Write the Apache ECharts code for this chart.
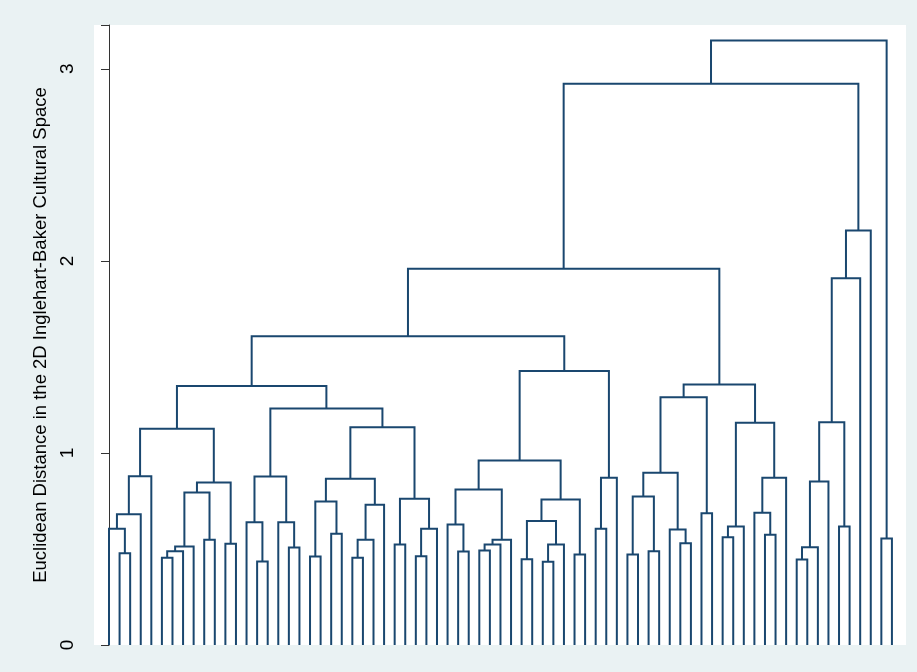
<!DOCTYPE html>
<html>
<head>
<meta charset="utf-8">
<title>Dendrogram</title>
<script src="https://cdn.jsdelivr.net/npm/echarts@6/dist/echarts.min.js"></script>
<style>
  html, body { margin: 0; padding: 0; background: #eaf2f3; }
  #chart { width: 917px; height: 672px; }
</style>
</head>
<body>
<div id="chart"></div>
<script>
// 75 leaves laid out left to right at positions 0..74.
const leafCount = 75;

// Agglomeration steps: node id of step k is leafCount + k.
const mergeLeft = [
  1, 0, 76, 77, 5, 79, 80, 9, 81, 11,
  83, 78, 14, 13, 17, 16, 88, 19, 21, 92,
  23, 95, 96, 94, 27, 29, 100, 99, 98, 91,
  86, 33, 32, 35, 108, 109, 107, 39, 41, 113,
  112, 44, 115, 111, 46, 119, 118, 105, 49, 51,
  123, 54, 53, 125, 56, 128, 58, 131, 62, 61,
  134, 132, 130, 122, 65, 139, 140, 69, 141, 143,
  144, 138, 73, 146
];
const mergeRight = [
  2, 75, 3, 4, 6, 7, 8, 10, 82, 12,
  84, 85, 15, 87, 18, 89, 90, 20, 22, 93,
  24, 25, 26, 97, 28, 30, 31, 101, 102, 103,
  104, 34, 106, 36, 37, 38, 110, 40, 42, 43,
  114, 45, 116, 117, 47, 48, 120, 121, 50, 52,
  124, 55, 126, 127, 57, 129, 59, 60, 63, 133,
  64, 135, 136, 137, 66, 67, 68, 70, 142, 71,
  72, 145, 74, 147
];
const mergeHeight = [
  0.478, 0.605, 0.681, 0.879, 0.454, 0.488, 0.513, 0.548, 0.794, 0.527,
  0.846, 1.126, 0.435, 0.639, 0.508, 0.639, 0.877, 0.461, 0.579, 0.747,
  0.454, 0.548, 0.730, 0.865, 0.523, 0.462, 0.605, 0.761, 1.134, 1.231,
  1.349, 0.487, 0.627, 0.492, 0.523, 0.548, 0.810, 0.447, 0.433, 0.523,
  0.645, 0.471, 0.758, 0.961, 0.605, 0.871, 1.426, 1.608, 0.471, 0.488,
  0.773, 0.530, 0.601, 0.897, 0.686, 1.290, 0.561, 0.617, 0.574, 0.688,
  0.871, 1.157, 1.356, 1.959, 0.445, 0.509, 0.851, 0.617, 1.160, 1.910,
  2.158, 2.922, 0.554, 3.147
];

const yTicks = [0, 1, 2, 3];
const yTitle = 'Euclidean Distance in the 2D Inglehart-Baker Cultural Space';

// Position and height of every node; leaves sit at height 0.
const nodeX = [];
const nodeH = [];
for (let i = 0; i < leafCount; i++) { nodeX.push(i); nodeH.push(0); }

const links = [];
for (let k = 0; k < mergeHeight.length; k++) {
  const a = mergeLeft[k], b = mergeRight[k], h = mergeHeight[k];
  links.push({
    coords: [
      [nodeX[a], nodeH[a]],
      [nodeX[a], h],
      [nodeX[b], h],
      [nodeX[b], nodeH[b]]
    ]
  });
  nodeX.push((nodeX[a] + nodeX[b]) / 2);
  nodeH.push(h);
}

const chart = echarts.init(document.getElementById('chart'), null, { renderer: 'canvas' });
chart.setOption({
  animation: false,
  backgroundColor: '#eaf2f3',
  grid: {
    left: 94, right: 11, top: 25, bottom: 27,
    show: true, backgroundColor: '#ffffff', borderWidth: 0
  },
  xAxis: {
    type: 'value', min: -1.418, max: 75.33,
    show: false
  },
  yAxis: {
    type: 'value', min: 0, max: 3.228, interval: 1,
    name: yTitle,
    nameLocation: 'middle',
    nameRotate: 90,
    nameGap: 39,
    nameTextStyle: { fontFamily: 'Liberation Sans', fontSize: 18.5, color: '#000' },
    axisLine: { show: true, lineStyle: { color: '#333', width: 1 } },
    axisTick: { show: true, length: 8, lineStyle: { color: '#333', width: 1 } },
    axisLabel: {
      rotate: 90, margin: 17,
      fontFamily: 'Liberation Sans', fontSize: 19, color: '#000',
      formatter: v => (yTicks.indexOf(v) >= 0 ? String(v) : '')
    },
    splitLine: { show: false }
  },
  series: [{
    type: 'lines',
    coordinateSystem: 'cartesian2d',
    polyline: true,
    silent: true,
    lineStyle: { color: '#1a476f', width: 2, opacity: 1 },
    data: links
  }]
});
</script>
</body>
</html>
